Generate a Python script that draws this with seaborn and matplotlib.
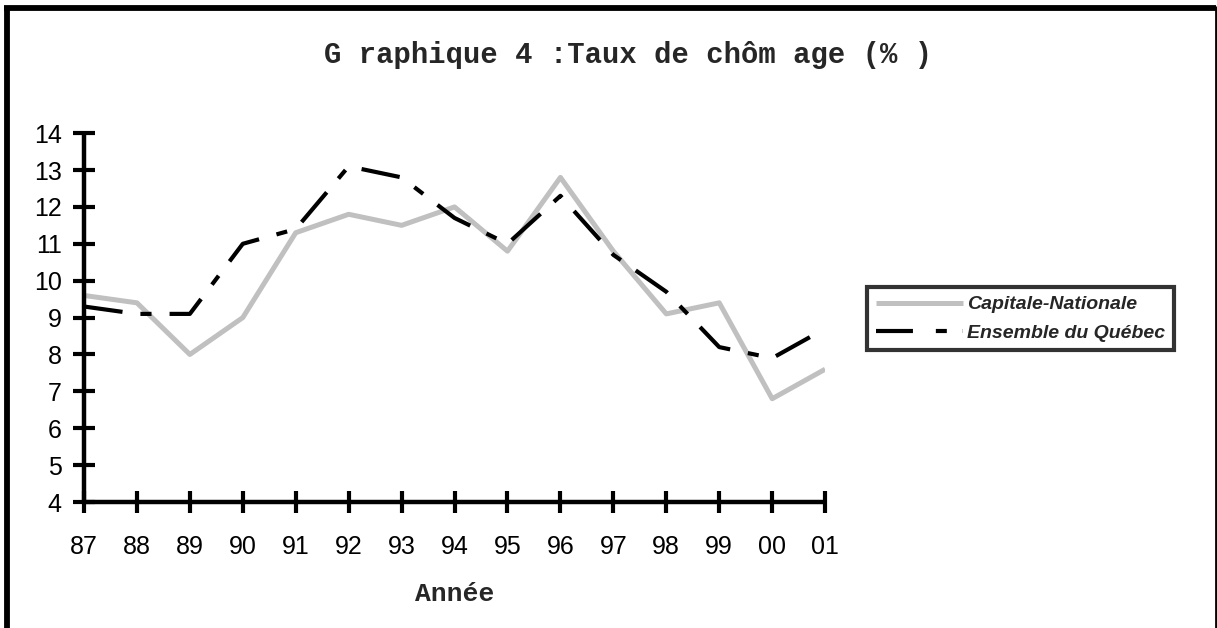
import matplotlib
matplotlib.use('Agg')
import matplotlib.pyplot as plt
import seaborn as sns
import pandas as pd
import numpy as np

# Data
years = ['87', '88', '89', '90', '91', '92', '93', '94',
         '95', '96', '97', '98', '99', '00', '01']
capitale = [9.6, 9.4, 8.0, 9.0, 11.3, 11.8, 11.5, 12.0,
            10.8, 12.8, 10.8, 9.1, 9.4, 6.8, 7.6]
quebec = [9.3, 9.1, 9.1, 11.0, 11.4, 13.1, 12.8, 11.7,
          11.0, 12.3, 10.7, 9.7, 8.2, 7.9, 8.7]

df = pd.DataFrame({'pos': np.arange(len(years)),
                   'Capitale-Nationale': capitale,
                   'Ensemble du Québec': quebec})

sns.set_style('white')
plt.rcParams['font.family'] = ['Liberation Sans', 'DejaVu Sans']
plt.rcParams['lines.scale_dashes'] = False

fig = plt.figure(figsize=(12.17, 6.28), dpi=100)
ax = fig.add_axes([0.069, 0.2006, 0.609, 0.5874])

sns.lineplot(data=df, x='pos', y='Capitale-Nationale', ax=ax,
             color='#c0c0c0', linewidth=3.6, label='Capitale-Nationale',
             solid_capstyle='butt')
sns.lineplot(data=df, x='pos', y='Ensemble du Québec', ax=ax,
             color='black', linewidth=3.0, label='Ensemble du Québec')
ax.lines[1].set_linestyle((0, (28, 13, 8, 13)))
ax.lines[1].set_dash_capstyle('butt')

ax.set_xlim(0, len(years) - 1)
ax.set_ylim(4, 14)
ax.set_xticks(np.arange(len(years)))
ax.set_xticklabels(years)
ax.set_yticks(np.arange(4, 15))

for side in ['top', 'right']:
    ax.spines[side].set_visible(False)
for side in ['left', 'bottom']:
    ax.spines[side].set_linewidth(3.2)
    ax.spines[side].set_color('black')
    ax.spines[side].set_capstyle('butt')

ax.tick_params(axis='both', direction='inout', length=16, width=3.0,
               color='black', labelsize=18, labelcolor='black',
               bottom=True, left=True)
ax.tick_params(axis='x', pad=16)
ax.tick_params(axis='y', pad=8)

ax.set_ylabel('')
ax.set_xlabel('Année', family=['Liberation Mono', 'DejaVu Sans Mono'],
              fontweight='bold', fontsize=19, labelpad=16)

fig.text(0.516, 0.913, 'G raphique 4 :Taux de chôm age (% )',
         family=['Liberation Mono', 'DejaVu Sans Mono'],
         fontweight='bold', fontsize=20.8, ha='center', va='center')

leg = ax.legend(loc='upper left', bbox_to_anchor=(0.7125, 0.543),
                bbox_transform=fig.transFigure, frameon=True, fancybox=False,
                edgecolor='black', handlelength=4.5, handletextpad=0.2,
                borderpad=0.45, labelspacing=0.55, borderaxespad=0,
                prop={'family': 'Liberation Sans', 'style': 'italic',
                      'weight': 'bold', 'size': 14})
leg.get_frame().set_linewidth(3.0)
leg.legend_handles[1].set_linestyle((0, (26.6, 16.5, 7.9, 11.5)))

# outer frame (top, left and right)
fig.add_artist(plt.Line2D([0.0055, 0.0055], [0.0, 0.988], color='black',
                          linewidth=4.2, transform=fig.transFigure,
                          solid_capstyle='butt'))
fig.add_artist(plt.Line2D([0.0035, 0.9995], [0.988, 0.988], color='black',
                          linewidth=4.2, transform=fig.transFigure,
                          solid_capstyle='butt'))
fig.add_artist(plt.Line2D([0.9992, 0.9992], [0.0, 0.99], color='black',
                          linewidth=2.0, transform=fig.transFigure,
                          solid_capstyle='butt'))

fig.savefig('out.png', dpi=100)
